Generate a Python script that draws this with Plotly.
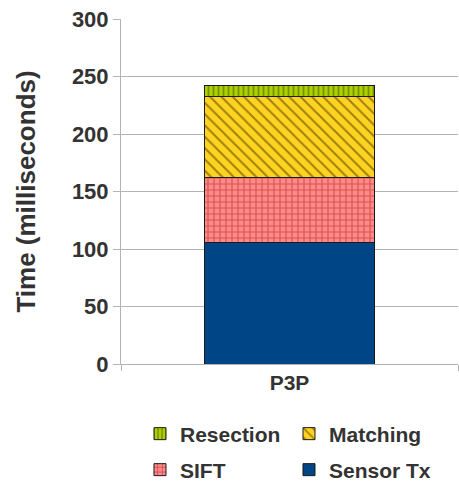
import plotly.graph_objects as go

categories = ["P3P"]
sensor_tx = [105.5]
sift = [57.1]
matching = [69.8]
resection = [10.2]

FONT = "Liberation Sans"
TXT = "#333333"
GRID = "#b3b3b3"

fig = go.Figure()

fig.add_trace(go.Bar(
    x=categories, y=sensor_tx, name="Sensor Tx", legend="legend2",
    marker=dict(color="#004586", line=dict(color="#1a1a1a", width=1)),
    width=0.505,
))
fig.add_trace(go.Bar(
    x=categories, y=sift, name="SIFT", legend="legend2",
    marker=dict(color="#ff8a8a", line=dict(color="#1a1a1a", width=1),
                pattern=dict(shape="+", fillmode="overlay", fgcolor="#b01c1c",
                             bgcolor="#ff8a8a", size=6, solidity=0.35)),
    width=0.505,
))
fig.add_trace(go.Bar(
    x=categories, y=matching, name="Matching", legend="legend",
    marker=dict(color="#ffd320", line=dict(color="#1a1a1a", width=1),
                pattern=dict(shape="\\", fillmode="overlay", fgcolor="#3a3000",
                             bgcolor="#ffd320", size=8, solidity=0.25)),
    width=0.505,
))
fig.add_trace(go.Bar(
    x=categories, y=resection, name="Resection", legend="legend",
    marker=dict(color="#aecf00", line=dict(color="#1a1a1a", width=1),
                pattern=dict(shape="|", fillmode="overlay", fgcolor="#3c5200",
                             bgcolor="#aecf00", size=5, solidity=0.35)),
    width=0.505,
))

legend_common = dict(
    orientation="h", xanchor="left", yanchor="middle",
    xref="container", yref="container",
    font=dict(family=FONT, size=21, color=TXT, weight="bold"),
    entrywidth=104, entrywidthmode="pixels",
    bgcolor="rgba(0,0,0,0)", borderwidth=0,
)

fig.update_layout(
    width=459, height=483,
    margin=dict(l=121, r=1, t=19, b=119),
    paper_bgcolor="white", plot_bgcolor="white",
    barmode="stack",
    bargap=0.495,
    showlegend=True,
    font=dict(family=FONT, color=TXT),
    legend=dict(**legend_common, x=0.305, y=1 - 434 / 483, traceorder="reversed"),
    legend2=dict(**legend_common, x=0.305, y=1 - 470 / 483, traceorder="reversed"),
    xaxis=dict(
        showline=True, linecolor=GRID, linewidth=1,
        ticks="outside", tickson="boundaries", ticklen=6, tickcolor=GRID,
        tickfont=dict(family=FONT, size=21, color=TXT, weight="bold"),
        showgrid=False, range=[-0.5, 0.5], automargin=False,
    ),
    yaxis=dict(
        range=[0, 300], dtick=50, tick0=0,
        showline=True, linecolor=GRID, linewidth=1,
        ticks="outside", ticklen=7, tickcolor=GRID,
        showgrid=True, gridcolor=GRID, gridwidth=1,
        zeroline=False, automargin=False,
        tickfont=dict(family=FONT, size=22, color=TXT, weight="bold"),
        title=dict(text="Time (milliseconds)", standoff=28,
                   font=dict(family=FONT, size=26, color=TXT, weight="bold")),
    ),
)

fig.write_html("out.html")
